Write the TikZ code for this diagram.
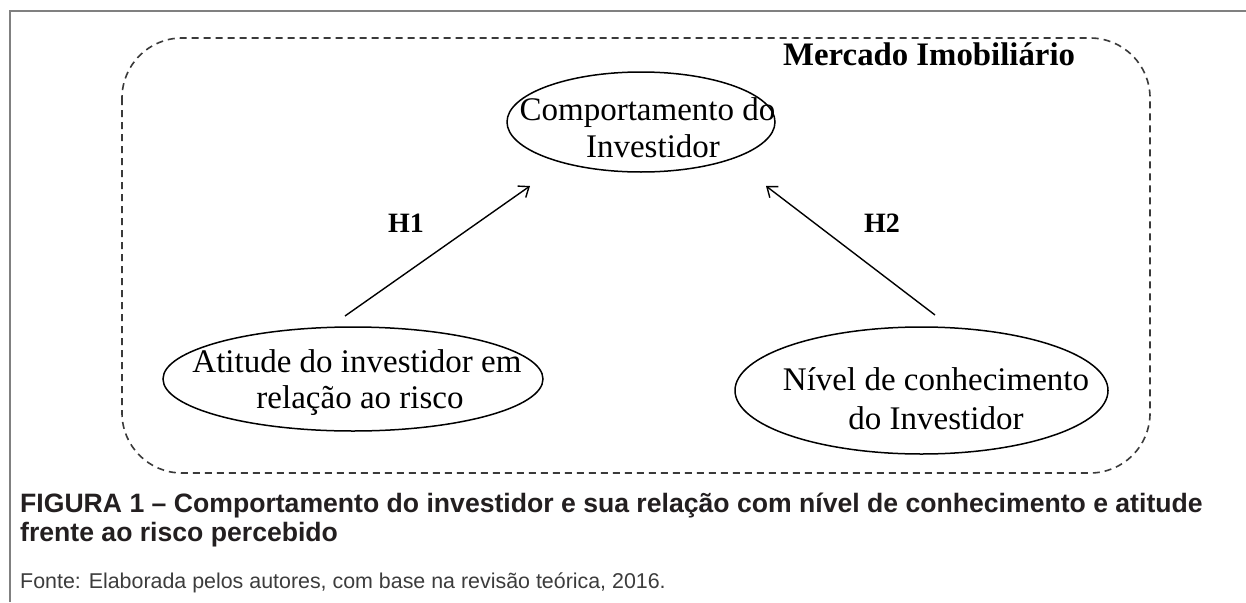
\documentclass[tikz,border=0pt]{standalone}
\usepackage{fontspec}
\setmainfont{Liberation Serif}
\newfontfamily\arialfont{Liberation Sans}
\usetikzlibrary{shapes.geometric,arrows.meta}
\definecolor{framegray}{HTML}{808080}
\definecolor{dashgray}{HTML}{3A3A3A}
\definecolor{capblack}{HTML}{231F20}
\definecolor{fontegray}{HTML}{3C3C3C}
\tikzset{
  ell/.style={draw=black, line width=1.5pt, ellipse, inner sep=0pt},
  eltext/.style={anchor=base, inner sep=0pt, font=\fontsize{33}{38}\selectfont},
  hlabel/.style={anchor=base west, inner sep=0pt, font=\fontsize{28}{32}\selectfont\bfseries},
  arr/.style={line width=1.4pt, -{Straight Barb[length=9pt,width=14pt,line width=1.4pt]}},
  captext/.style={anchor=base west, inner sep=0pt, text=capblack, font=\arialfont\bfseries\fontsize{26.6}{30}\selectfont},
  fontetext/.style={anchor=base west, inner sep=0pt, text=fontegray, font=\arialfont\fontsize{21.4}{25}\selectfont},
}
\begin{document}
\begin{tikzpicture}[x=1pt,y=-1pt]
\useasboundingbox (0,0) rectangle (1246,602);
\fill[white] (0,0) rectangle (1246,602);
% outer frame (top and left only)
\draw[framegray, line width=1.6pt] (10,602) -- (10,11) -- (1246,11);
% dashed market box
\draw[dashgray, line width=1.6pt, dash pattern=on 7pt off 5pt, rounded corners=60pt]
  (122,38) rectangle (1150,473);
\node[anchor=base west, inner sep=0pt, font=\fontsize{32.8}{36}\selectfont\bfseries] (mkt) at (783,65) {Mercado Imobiliário};
% ellipses
\node[ell, minimum width=268pt, minimum height=100pt] (comp) at (641,122) {};
\node[ell, minimum width=380pt, minimum height=104pt] (atit) at (353,379) {};
\node[ell, minimum width=373pt, minimum height=127pt] (nivel) at (921.5,390.5) {};
% ellipse texts
\node[eltext] (comp1) at (647.5,120) {Comportamento do};
\node[eltext] (comp2) at (653,157) {Investidor};
\node[eltext] (atit1) at (357,372) {Atitude do investidor em};
\node[eltext] (atit2) at (360,408) {relação ao risco};
\node[eltext] (nivel1) at (936,390) {Nível de conhecimento};
\node[eltext] (nivel2) at (936,429) {do Investidor};
% arrows
\coordinate (h1s) at (345,316);
\coordinate (h1e) at (530,186);
\coordinate (h2s) at (935,315);
\coordinate (h2e) at (766,186);
\draw[arr] (h1s) -- (h1e);
\draw[arr] (h2s) -- (h2e);
\node[hlabel] (h1) at (388,232) {H1};
\node[hlabel] (h2) at (864,232) {H2};
% caption
\node[captext] (cap1) at (20,512) {FIGURA 1 – Comportamento do investidor e sua relação com nível de conhecimento e atitude};
\node[captext] (cap2) at (20,541) {frente ao risco percebido};
\node[fontetext] (fonte) at (20,588) {Fonte: Elaborada pelos autores, com base na revisão teórica, 2016.};
\end{tikzpicture}
\end{document}
